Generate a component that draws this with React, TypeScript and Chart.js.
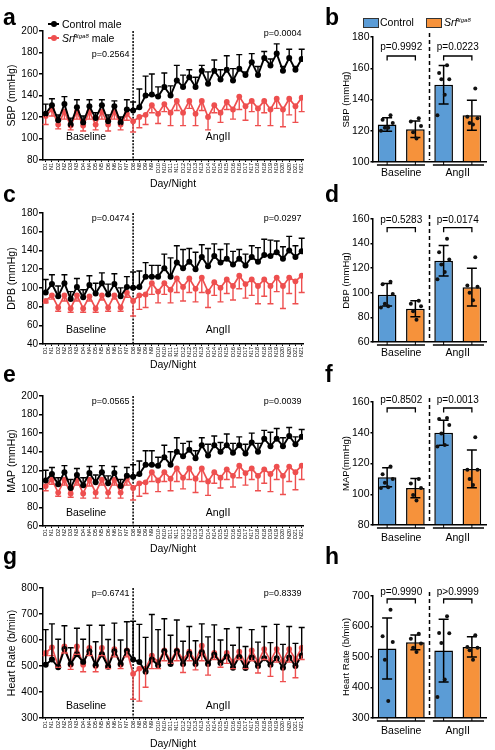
import React, { useEffect, useRef } from 'react';
import { Chart, registerables } from 'chart.js';
Chart.register(...registerables);

const FONT = '"Liberation Sans", Arial, Helvetica, sans-serif';
Chart.defaults.font.family = FONT;
Chart.defaults.color = '#000';

const RED = '#ee4f4f';
const BLUE = '#5b9cd6';
const ORANGE = '#f6923b';

// ---------- categories ----------
const timeLabels = ['D1','N1','D2','N2','D3','N3','D4','N4','D5','N5','D6','N6','D7','N7','D8','N8','D9','N9','D10','N10','D11','N11','D12','N12','D13','N13','D14','N14','D15','N15','D16','N16','D17','N17','D18','N18','D19','N19','D20','N20','D21','N21'];
const angIIStartIndex = 14;
const groupLabels = ['Baseline', 'AngII'];

// ---------- a: SBP time course ----------
const sbpControl = [123,131,117,132,113,129,115,130,119,131,116,130,115,127,126,129,140,141,139,148,140,154,148,157,148,163,151,163,155,164,154,165,159,171,159,175,168,179,163,175,164,174];
const sbpControlUpper = [132,137,122,139,119,136,121,136,124,136,122,135,120,136,134,146,158,160,148,161,149,168,159,164,157,168,162,173,164,177,165,178,162,179,167,181,174,188,167,183,167,183];
const sbpSrf = [121,127,113,125,112,125,112,125,113,125,113,125,113,123,116,120,122,131,123,132,124,135,124,135,123,135,120,131,124,134,127,139,130,135,128,135,127,137,127,137,130,138];
const sbpSrfLower = [113,121,109,118,108,118,107,118,108,118,107,118,108,117,106,110,113,124,114,125,112,126,112,128,112,126,108,124,115,127,118,127,117,125,112,124,112,128,111,122,115,125];

// ---------- c: DBP time course ----------
const dbpControl = [95,104,91,105,88,101,90,103,94,105,93,104,91,101,100,101,112,112,112,121,112,127,121,128,120,133,123,134,127,131,125,131,124,133,128,135,134,138,131,140,133,139];
const dbpControlUpper = [109,114,102,114,96,110,98,113,105,116,104,115,100,112,117,118,127,124,124,136,132,145,141,142,138,146,142,147,141,147,139,141,136,145,143,152,151,150,144,155,145,153];
const dbpSrf = [86,92,79,92,78,92,78,91,78,92,79,92,79,95,86,92,93,105,96,105,98,110,101,110,99,111,96,106,100,109,102,113,104,109,102,109,102,111,102,111,107,113];
const dbpSrfLower = [84,88,75,86,74,86,74,86,74,87,75,88,75,90,70,77,79,93,84,93,84,95,86,95,85,95,79,92,85,94,87,99,89,92,83,91,83,96,78,94,83,95];

// ---------- e: MAP time course ----------
const mapControl = [109,116,105,118,101,115,104,117,107,118,106,117,103,114,113,116,126,126,125,134,126,140,135,142,133,147,136,147,140,147,139,147,138,150,140,154,146,154,146,157,148,156];
const mapControlUpper = [120,123,112,125,110,122,112,124,115,125,114,124,110,123,126,130,141,141,134,147,140,155,149,151,141,155,148,157,150,159,149,156,148,160,149,163,161,165,155,166,156,164];
const mapSrf = [103,110,96,110,95,110,95,110,96,110,96,110,96,111,101,106,107,118,109,118,111,122,112,122,111,122,108,118,112,121,114,125,117,122,114,121,116,124,114,124,118,125];
const mapSrfLower = [98,105,92,104,91,104,90,103,90,104,90,104,90,104,88,92,95,108,97,108,98,108,100,110,96,108,93,106,101,110,102,112,104,110,98,106,97,110,94,108,99,110];

// ---------- g: Heart rate time course ----------
const hrControl = [505,525,495,565,508,545,515,557,503,545,497,557,508,558,525,515,478,525,503,557,508,557,508,548,508,553,508,543,512,537,493,535,492,533,500,530,505,530,493,533,500,540];
const hrControlUpper = [640,662,603,655,570,645,603,657,593,657,602,665,600,670,672,660,610,698,640,682,618,677,595,652,597,662,612,658,600,643,580,648,575,640,592,652,590,660,583,652,587,648];
const hrSrf = [550,572,500,575,505,575,505,570,500,570,500,565,505,560,470,490,490,540,515,560,520,560,525,555,520,578,510,550,515,550,515,555,510,560,515,565,520,565,520,565,525,570];
const hrSrfLower = [540,540,495,550,487,545,478,540,478,540,490,535,490,535,372,365,418,490,490,520,510,520,475,520,485,520,465,525,495,510,490,525,490,520,473,525,460,515,440,515,455,525];

// ---------- bar panels: order = Control Baseline, Srf Baseline, Control AngII, Srf AngII ----------
const sbpBarMean = [124, 121, 149.5, 130];
const sbpBarSd = [4.3, 5.3, 12.3, 9.6];
const sbpBarPoints = [[130,127,125,122,122,120],[128,126,123,119,115],[162,157,153,153,143,130],[147,129,128,125,124]];

const dbpBarMean = [98.4, 87, 126, 104.6];
const dbpBarSd = [9.2, 6.5, 12.4, 15.3];
const dbpBarPoints = [[109,107,99,91,89,88],[93.5,91,89,85,78],[144,133,127,123,117,111],[129,106,105,100,94]];

const mapBarMean = [111, 104, 140, 116.5];
const mapBarSd = [6.2, 6.2, 8.1, 12.2];
const mapBarPoints = [[118,113,110,107.5,104.5,104],[110,107,104,99.5,96],[149.6,149,145,139.5,132,131],[137,116,116,110,106]];

const hrBarMean = [528, 548, 521, 533];
const hrBarSd = [100, 24, 103, 33];
const hrBarPoints = [[655,568,549,491,356],[576,560,544,530,516],[634,579,578,546,426,369],[571,533,530,522,491]];

// jitter pattern for dots (visual spread only)
const JITTER = [0.12, -0.16, 0.2, -0.08, 0.04, -0.22];

// ---------- plugins ----------
const lineErrorBars = {
  id: 'lineErrorBars',
  afterDatasetsDraw(chart: any) {
    const { ctx } = chart;
    const y = chart.scales.y;
    for (let d = chart.data.datasets.length - 1; d >= 0; d--) {
      const ds: any = chart.data.datasets[d];
      if (!ds.errEnds) continue;
      const meta = chart.getDatasetMeta(d);
      ctx.save();
      ctx.strokeStyle = ds.borderColor;
      ctx.lineWidth = 1.4;
      meta.data.forEach((pt: any, i: number) => {
        const ye = y.getPixelForValue(ds.errEnds[i]);
        ctx.beginPath();
        ctx.moveTo(pt.x, pt.y);
        ctx.lineTo(pt.x, ye);
        ctx.moveTo(pt.x - 3, ye);
        ctx.lineTo(pt.x + 3, ye);
        ctx.stroke();
      });
      ctx.restore();
    }
  },
};

const lineAnnot = {
  id: 'lineAnnot',
  beforeDatasetsDraw(chart: any) {
    const o = chart.options.plugins.lineAnnot;
    const { ctx, chartArea: ca } = chart;
    const xd = chart.scales.x.getPixelForValue(o.divider);
    ctx.save();
    ctx.strokeStyle = '#000';
    ctx.lineWidth = 1.5;
    ctx.setLineDash([2, 1.3]);
    ctx.beginPath();
    ctx.moveTo(xd, ca.top);
    ctx.lineTo(xd, ca.bottom);
    ctx.stroke();
    ctx.restore();
  },
  afterDraw(chart: any) {
    const o = chart.options.plugins.lineAnnot;
    const { ctx, chartArea: ca } = chart;
    const xd = chart.scales.x.getPixelForValue(o.divider);
    ctx.save();
    ctx.fillStyle = '#000';
    ctx.textBaseline = 'middle';
    ctx.font = `9px ${FONT}`;
    ctx.textAlign = 'right';
    ctx.fillText(o.pBase, xd - 3.5, ca.top + o.pBaseDy);
    ctx.fillText(o.pAng, ca.right - 1.5, ca.top + o.pAngDy);
    ctx.font = `10.5px ${FONT}`;
    ctx.textAlign = 'center';
    ctx.fillText(groupLabels[0], (ca.left + xd) / 2 - 2, ca.bottom - o.labelDy);
    ctx.fillText(groupLabels[1], (xd + ca.right) / 2, ca.bottom - o.labelDy);
    ctx.restore();
  },
};

const barAnnot = {
  id: 'barAnnot',
  beforeDatasetsDraw(chart: any) {
    const { ctx, chartArea: ca } = chart;
    const xd = chart.scales.x.getPixelForValue(1.5);
    ctx.save();
    ctx.strokeStyle = '#000';
    ctx.lineWidth = 1.5;
    ctx.setLineDash([4, 3]);
    ctx.beginPath();
    ctx.moveTo(xd, ca.top - 4);
    ctx.lineTo(xd, ca.bottom - 2);
    ctx.stroke();
    ctx.restore();
  },
  afterDatasetDraw(chart: any, args: any) {
    const ds: any = chart.data.datasets[args.index];
    if (!ds.sd) return;
    const { ctx } = chart;
    const y = chart.scales.y;
    const meta = chart.getDatasetMeta(args.index);
    ctx.save();
    ctx.strokeStyle = '#000';
    ctx.lineWidth = 1.5;
    meta.data.forEach((bar: any, i: number) => {
      const m = ds.data[i].y;
      const yt = y.getPixelForValue(m + ds.sd[i]);
      const yb = y.getPixelForValue(m - ds.sd[i]);
      ctx.beginPath();
      ctx.moveTo(bar.x, yt); ctx.lineTo(bar.x, yb);
      ctx.moveTo(bar.x - 5, yt); ctx.lineTo(bar.x + 5, yt);
      ctx.moveTo(bar.x - 5, yb); ctx.lineTo(bar.x + 5, yb);
      ctx.stroke();
    });
    ctx.restore();
  },
  afterDraw(chart: any) {
    const o = chart.options.plugins.barAnnot;
    const { ctx, chartArea: ca } = chart;
    const x = chart.scales.x;
    ctx.save();
    ctx.strokeStyle = '#000';
    ctx.fillStyle = '#000';
    ctx.lineWidth = 1.3;
    [[0, 1, o.pBase], [2, 3, o.pAng]].forEach(([a, b, txt]: any) => {
      const x1 = x.getPixelForValue(a);
      const x2 = x.getPixelForValue(b);
      const yb = ca.top + o.brDy;
      ctx.beginPath();
      ctx.moveTo(x1, yb + 4.5); ctx.lineTo(x1, yb); ctx.lineTo(x2, yb); ctx.lineTo(x2, yb + 4.5);
      ctx.stroke();
      ctx.font = `10px ${FONT}`;
      ctx.textAlign = 'center';
      ctx.textBaseline = 'middle';
      ctx.fillText(txt, (x1 + x2) / 2, ca.top + o.pDy);
    });
    const gy = ca.bottom + 3;
    ctx.lineWidth = 1.5;
    [[-0.36, 1.34], [1.62, 3.43]].forEach(([s, e]) => {
      ctx.beginPath();
      ctx.moveTo(x.getPixelForValue(s), gy);
      ctx.lineTo(x.getPixelForValue(e), gy);
      ctx.stroke();
    });
    ctx.lineWidth = 1;
    [0, 1, 2, 3].forEach((v) => {
      const px = x.getPixelForValue(v);
      ctx.beginPath(); ctx.moveTo(px, ca.bottom); ctx.lineTo(px, gy); ctx.stroke();
    });
    ctx.restore();
  },
};

// ---------- panel layouts ----------
type LineCfg = {
  top: number; height: number; plotTop: number; plotBottom: number;
  yMin: number; yMax: number; yStep: number; yTitle: string;
  control: number[]; controlUpper: number[]; srf: number[]; srfLower: number[];
  pBase: string; pAng: string; pBaseDy: number; pAngDy: number; labelDy: number;
};

const linePanels: LineCfg[] = [
  { top: 0, height: 190, plotTop: 31, plotBottom: 160, yMin: 80, yMax: 200, yStep: 20, yTitle: 'SBP (mmHg)',
    control: sbpControl, controlUpper: sbpControlUpper, srf: sbpSrf, srfLower: sbpSrfLower,
    pBase: 'p=0.2564', pAng: 'p=0.0004', pBaseDy: 23.5, pAngDy: 2.5, labelDy: 23 },
  { top: 182, height: 189, plotTop: 213, plotBottom: 344, yMin: 40, yMax: 180, yStep: 20, yTitle: 'DPB (mmHg)',
    control: dbpControl, controlUpper: dbpControlUpper, srf: dbpSrf, srfLower: dbpSrfLower,
    pBase: 'p=0.0474', pAng: 'p=0.0297', pBaseDy: 6, pAngDy: 6, labelDy: 14 },
  { top: 365, height: 190, plotTop: 396, plotBottom: 526, yMin: 60, yMax: 200, yStep: 20, yTitle: 'MAP (mmHg)',
    control: mapControl, controlUpper: mapControlUpper, srf: mapSrf, srfLower: mapSrfLower,
    pBase: 'p=0.0565', pAng: 'p=0.0039', pBaseDy: 6, pAngDy: 6, labelDy: 13 },
  { top: 557, height: 193, plotTop: 588, plotBottom: 718, yMin: 300, yMax: 800, yStep: 100, yTitle: 'Heart Rate (b/min)',
    control: hrControl, controlUpper: hrControlUpper, srf: hrSrf, srfLower: hrSrfLower,
    pBase: 'p=0.6741', pAng: 'p=0.8339', pBaseDy: 5.5, pAngDy: 5.5, labelDy: 12 },
];

type BarCfg = {
  top: number; height: number; plotTop: number; plotBottom: number;
  yMin: number; yMax: number; yStep: number; yTitle: string;
  mean: number[]; sd: number[]; points: number[][];
  pBase: string; pAng: string; pDy: number; brDy: number; labelPad: number;
};

const barPanels: BarCfg[] = [
  { top: 0, height: 185, plotTop: 37, plotBottom: 162, yMin: 100, yMax: 180, yStep: 20, yTitle: 'SBP (mmHg)',
    mean: sbpBarMean, sd: sbpBarSd, points: sbpBarPoints, pBase: 'p=0.9992', pAng: 'p=0.0223', pDy: 10.7, brDy: 19, labelPad: 5 },
  { top: 182, height: 185, plotTop: 219, plotBottom: 342, yMin: 60, yMax: 160, yStep: 20, yTitle: 'DBP (mmHg)',
    mean: dbpBarMean, sd: dbpBarSd, points: dbpBarPoints, pBase: 'p=0.5283', pAng: 'p=0.0174', pDy: 1, brDy: 8.7, labelPad: 5 },
  { top: 365, height: 185, plotTop: 402, plotBottom: 525, yMin: 80, yMax: 160, yStep: 20, yTitle: 'MAP(mmHg)',
    mean: mapBarMean, sd: mapBarSd, points: mapBarPoints, pBase: 'p=0.8502', pAng: 'p=0.0013', pDy: -2, brDy: 6, labelPad: 7 },
  { top: 557, height: 193, plotTop: 596, plotBottom: 718, yMin: 300, yMax: 700, yStep: 100, yTitle: 'Heart Rate (b/min)',
    mean: hrBarMean, sd: hrBarSd, points: hrBarPoints, pBase: 'p=0.9990', pAng: 'p>0.9999', pDy: -4, brDy: 3, labelPad: 6.4 },
];

const LINE_W = 340;
const LINE_PLOT_RIGHT = 303;
const LINE_Y_AXIS_W = 43;
const X_MIN = -0.432;
const X_MAX = 41.21;

function LinePanel({ cfg }: { cfg: LineCfg }) {
  const ref = useRef<HTMLCanvasElement>(null);
  useEffect(() => {
    const xh = cfg.height - (cfg.plotBottom - cfg.top);
    const chart = new Chart(ref.current as HTMLCanvasElement, {
      type: 'line',
      data: {
        datasets: [
          { label: 'Control male', data: cfg.control.map((y, i) => ({ x: i, y })), borderColor: '#000', backgroundColor: '#000',
            pointRadius: 3, pointBorderWidth: 0, borderWidth: 1.9, errEnds: cfg.controlUpper } as any,
          { label: 'Srf male', data: cfg.srf.map((y, i) => ({ x: i, y })), borderColor: RED, backgroundColor: RED,
            pointRadius: 2.9, pointBorderWidth: 0, borderWidth: 1.7, errEnds: cfg.srfLower } as any,
        ],
      },
      options: {
        responsive: false,
        animation: false,
        events: [],
        layout: { padding: { top: cfg.plotTop - cfg.top, right: LINE_W - LINE_PLOT_RIGHT, left: 0, bottom: 0 } },
        plugins: {
          legend: { display: false },
          tooltip: { enabled: false },
          lineAnnot: { divider: angIIStartIndex, pBase: cfg.pBase, pAng: cfg.pAng, pBaseDy: cfg.pBaseDy, pAngDy: cfg.pAngDy, labelDy: cfg.labelDy },
        } as any,
        scales: {
          x: {
            type: 'linear', min: X_MIN, max: X_MAX, offset: false,
            afterBuildTicks: (s: any) => { s.ticks = timeLabels.map((_, i) => ({ value: i })); },
            afterFit: (s: any) => { s.height = xh; },
            ticks: { autoSkip: false, minRotation: 90, maxRotation: 90, padding: 1, font: { size: 5.5 }, color: '#000',
              callback: (v: any) => timeLabels[v] ?? '' },
            grid: { drawOnChartArea: false, color: '#000', tickLength: 2, lineWidth: 1 },
            border: { color: '#000', width: 1.5 },
            title: { display: true, text: 'Day/Night', font: { size: 10.5 }, color: '#000', padding: 0 },
          },
          y: {
            min: cfg.yMin, max: cfg.yMax,
            afterFit: (s: any) => { s.width = LINE_Y_AXIS_W; },
            ticks: { stepSize: cfg.yStep, font: { size: 10 }, color: '#000', padding: 1 },
            grid: { drawOnChartArea: false, color: '#000', tickLength: 4, lineWidth: 1.5 },
            border: { color: '#000', width: 1.5 },
            title: { display: true, text: cfg.yTitle, font: { size: 10.5 }, color: '#000', padding: { top: 6, bottom: 0 } },
          },
        },
      } as any,
      plugins: [lineAnnot, lineErrorBars],
    });
    return () => chart.destroy();
  }, []);
  return (
    <canvas ref={ref} width={LINE_W} height={cfg.height}
      style={{ position: 'absolute', left: 0, top: cfg.top, width: LINE_W, height: cfg.height }} />
  );
}

const BAR_LEFT = 340;
const BAR_W = 155;
const BAR_Y_AXIS_W = 33;
const BAR_PLOT_RIGHT = 486;

function BarPanel({ cfg }: { cfg: BarCfg }) {
  const ref = useRef<HTMLCanvasElement>(null);
  useEffect(() => {
    const chart = new Chart(ref.current as HTMLCanvasElement, {
      type: 'bar',
      data: {
        datasets: [
          { type: 'scatter', label: 'individual',
            data: cfg.points.flatMap((arr, i) => arr.map((y, j) => ({ x: i + JITTER[j % JITTER.length], y }))),
            pointRadius: 2, pointBorderWidth: 0, backgroundColor: '#111', order: 1 } as any,
          { type: 'bar', label: 'mean', data: cfg.mean.map((y, i) => ({ x: i, y })),
            backgroundColor: [BLUE, ORANGE, BLUE, ORANGE], borderColor: '#000', borderWidth: 1.5, borderSkipped: 'start',
            barPercentage: 0.66, categoryPercentage: 1, base: cfg.yMin, order: 2, sd: cfg.sd } as any,
        ],
      },
      options: {
        responsive: false,
        animation: false,
        events: [],
        layout: { padding: { top: cfg.plotTop - cfg.top, right: BAR_LEFT + BAR_W - BAR_PLOT_RIGHT, left: 0, bottom: 0 } },
        plugins: {
          legend: { display: false },
          tooltip: { enabled: false },
          barAnnot: { pBase: cfg.pBase, pAng: cfg.pAng, pDy: cfg.pDy, brDy: cfg.brDy },
        } as any,
        scales: {
          x: {
            type: 'linear', min: -0.5, max: 3.5, offset: false,
            afterBuildTicks: (s: any) => { s.ticks = [{ value: 0.5 }, { value: 2.5 }]; },
            afterFit: (s: any) => { s.height = cfg.height - (cfg.plotBottom - cfg.top); },
            ticks: { autoSkip: false, maxRotation: 0, minRotation: 0, padding: cfg.labelPad, font: { size: 10.5 }, color: '#000',
              callback: (_v: any, i: number) => groupLabels[i] },
            grid: { drawOnChartArea: false, drawTicks: false, offset: false },
            border: { color: '#000', width: 1.5 },
          },
          y: {
            min: cfg.yMin, max: cfg.yMax,
            afterFit: (s: any) => { s.width = BAR_Y_AXIS_W; },
            ticks: { stepSize: cfg.yStep, font: { size: 10.5 }, color: '#000', padding: 1 },
            grid: { drawOnChartArea: false, color: '#000', tickLength: 2.5, lineWidth: 1.5 },
            border: { color: '#000', width: 1.5 },
            title: { display: true, text: cfg.yTitle, font: { size: 9.5 }, color: '#000', padding: { top: 0.5, bottom: 0 } },
          },
        },
      } as any,
      plugins: [barAnnot],
    });
    return () => chart.destroy();
  }, []);
  return (
    <canvas ref={ref} width={BAR_W} height={cfg.height}
      style={{ position: 'absolute', left: BAR_LEFT, top: cfg.top, width: BAR_W, height: cfg.height }} />
  );
}

const textStyle: React.CSSProperties = { position: 'absolute', fontFamily: FONT, color: '#000', whiteSpace: 'nowrap', lineHeight: '12px' };

function LineKey({ x, y, color }: { x: number; y: number; color: string }) {
  return (
    <>
      <div style={{ position: 'absolute', left: x, top: y - 0.9, width: 11, height: 1.8, background: color }} />
      <div style={{ position: 'absolute', left: x + 5.5 - 3, top: y - 3, width: 6, height: 6, borderRadius: '50%', background: color }} />
    </>
  );
}

function SrfName() {
  return (
    <span>
      <i>Srf</i>
      <sup style={{ fontSize: '6px', fontStyle: 'italic', verticalAlign: '4px', lineHeight: 0 }}>Itga8</sup>
    </span>
  );
}

const panelLetters = [
  { t: 'a', x: 3, base: 25 }, { t: 'b', x: 325, base: 25 },
  { t: 'c', x: 3, base: 202 }, { t: 'd', x: 325, base: 202 },
  { t: 'e', x: 3, base: 382 }, { t: 'f', x: 325, base: 382 },
  { t: 'g', x: 3, base: 564 }, { t: 'h', x: 325, base: 564 },
];

export default function App() {
  return (
    <div style={{ position: 'absolute', left: 0, top: 0, width: 495, height: 750, background: '#fff', overflow: 'hidden' }}>
      {linePanels.map((cfg, i) => <LinePanel key={'l' + i} cfg={cfg} />)}
      {barPanels.map((cfg, i) => <BarPanel key={'b' + i} cfg={cfg} />)}

      {panelLetters.map((p) => (
        <div key={p.t} style={{ position: 'absolute', left: p.x, top: p.base - 19.5, fontFamily: FONT, fontWeight: 'bold', fontSize: 23, lineHeight: '23px', color: '#000' }}>{p.t}</div>
      ))}

      {/* legend a */}
      <LineKey x={48} y={24} color="#000" />
      <div style={{ ...textStyle, left: 62, top: 18, fontSize: 10.5 }}>Control male</div>
      <LineKey x={48} y={38} color={RED} />
      <div style={{ ...textStyle, left: 62, top: 32, fontSize: 10.5 }}><SrfName /> male</div>

      {/* legend b */}
      <div style={{ position: 'absolute', left: 363, top: 18, width: 14, height: 7.5, background: BLUE, border: '1px solid #333' }} />
      <div style={{ ...textStyle, left: 380, top: 16, fontSize: 10.5 }}>Control</div>
      <div style={{ position: 'absolute', left: 426, top: 18, width: 14, height: 7.5, background: ORANGE, border: '1px solid #333' }} />
      <div style={{ ...textStyle, left: 444, top: 16, fontSize: 10.5 }}><SrfName /></div>
    </div>
  );
}
